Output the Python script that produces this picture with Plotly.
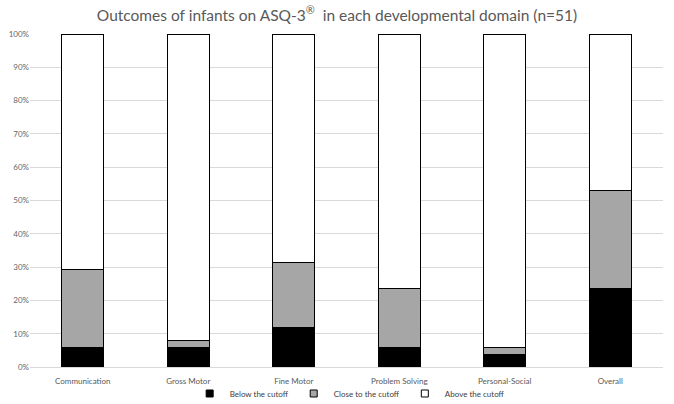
import plotly.graph_objects as go

categories = ["Communication", "Gross Motor", "Fine Motor", "Problem Solving", "Personal-Social", "Overall"]
below = [5.9, 5.9, 11.8, 5.9, 3.9, 23.5]
close = [23.5, 2.0, 19.6, 17.6, 2.0, 29.4]
above = [70.6, 92.1, 68.6, 76.5, 94.1, 47.1]
tick_vals = [0, 10, 20, 30, 40, 50, 60, 70, 80, 90, 100]
tick_text = [f"{v}%" for v in tick_vals]

font = "Lato, 'Open Sans', sans-serif"
fig = go.Figure()
series = [
    ("Below the cutoff", below, "#000000"),
    ("Close to the cutoff", close, "#a6a6a6"),
    ("Above the cutoff", above, "#ffffff"),
]
for name, vals, color in series:
    fig.add_trace(go.Bar(
        x=categories, y=vals, name=name, showlegend=False,
        marker=dict(color=color, line=dict(color="#000000", width=1)),
    ))
for name, vals, color in series:
    fig.add_trace(go.Scatter(
        x=[None], y=[None], mode="markers", name=name,
        marker=dict(symbol="square", size=7, color=color, line=dict(color="#000000", width=1)),
    ))

fig.update_layout(
    barmode="stack",
    bargap=0.6,
    width=674, height=404,
    margin=dict(l=30, r=11, t=34, b=37),
    paper_bgcolor="white", plot_bgcolor="white",
    font=dict(family=font, color="#595959", size=8),
    title=dict(
        text="Outcomes of infants on ASQ-3<sup>®</sup>  in each developmental domain (n=51)",
        x=0.5, xanchor="center", y=0.962, yanchor="middle",
        font=dict(size=15.5, color="#595959", family=font),
    ),
    legend=dict(
        orientation="h", x=0.505, xanchor="center", yref="container", y=0.026, yanchor="middle",
        font=dict(size=8, color="#404040"), traceorder="normal",
        itemwidth=30, tracegroupgap=0, bgcolor="rgba(0,0,0,0)",
    ),
    yaxis=dict(
        range=[0, 100], tickvals=tick_vals, ticktext=tick_text,
        showgrid=True, gridcolor="#d9d9d9", gridwidth=1,
        zeroline=False, showline=False, ticks="", automargin=False,
        tickfont=dict(size=8, color="#666666"),
    ),
    xaxis=dict(
        showline=True, linecolor="#d9d9d9", ticks="", automargin=False,
        ticklabelstandoff=6,
        tickfont=dict(size=8, color="#595959"),
    ),
)

fig.write_html(
    "out.html",
    config={"displayModeBar": False},
    post_script="document.body.style.margin='0';document.body.style.overflow='hidden';",
)
